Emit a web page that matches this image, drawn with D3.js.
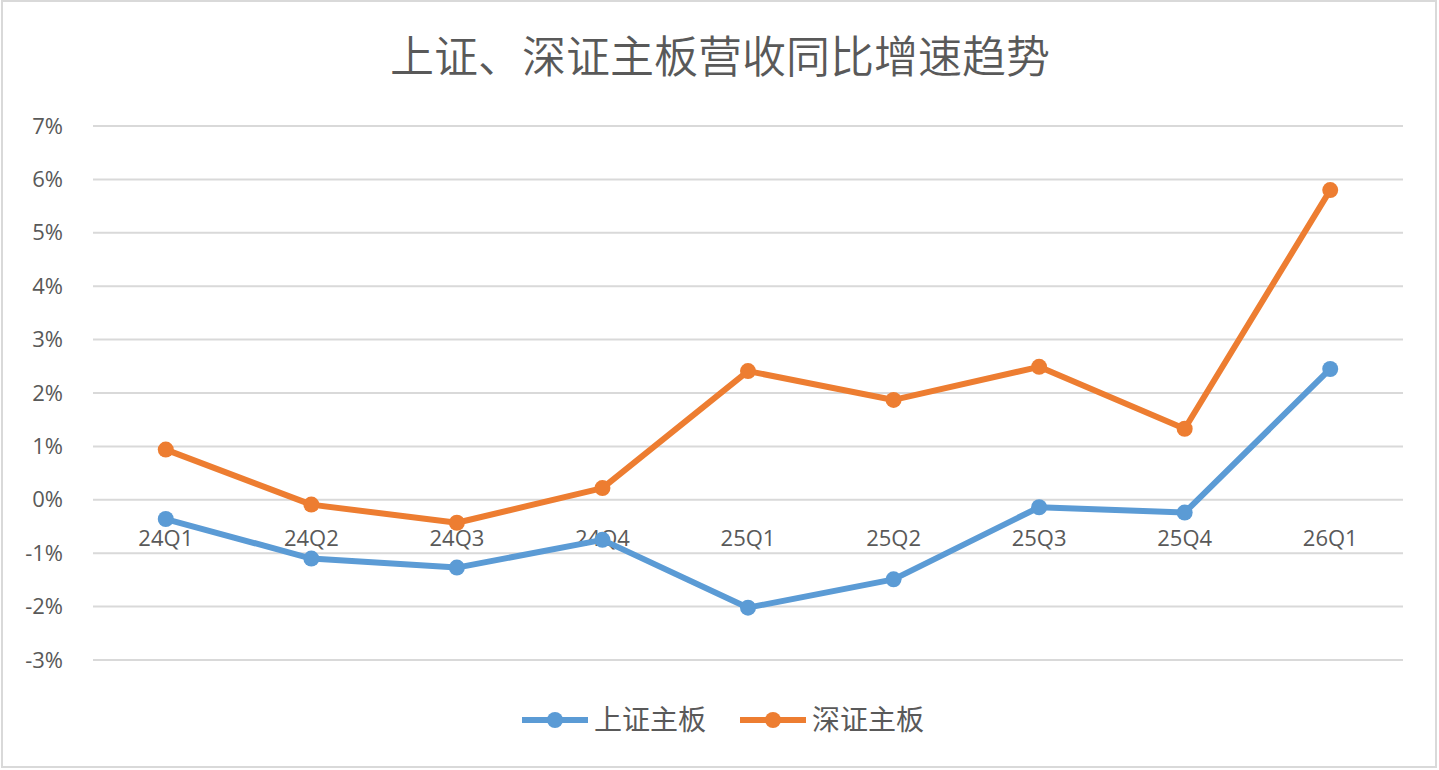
<!DOCTYPE html>
<html>
<head>
<meta charset="utf-8">
<script src="https://cdn.jsdelivr.net/npm/d3@7"></script>
<style>
  body { margin: 0; background: #fff; }
  text { font-family: "Noto Sans CJK SC", "Noto Sans", sans-serif; fill: #595959; }
</style>
</head>
<body>
<div id="chart"></div>
<script>
// data
const quarters = ["24Q1", "24Q2", "24Q3", "24Q4", "25Q1", "25Q2", "25Q3", "25Q4", "26Q1"];
const shValues = [-0.36, -1.10, -1.27, -0.75, -2.02, -1.49, -0.14, -0.24, 2.45];
const szValues = [0.94, -0.09, -0.43, 0.22, 2.41, 1.87, 2.49, 1.33, 5.80];
const seriesNames = ["上证主板", "深证主板"];
const seriesColors = ["#5B9BD5", "#ED7D31"];
const yTicks = [-3, -2, -1, 0, 1, 2, 3, 4, 5, 6, 7];

const W = 1439, H = 770;
const margin = {top: 126, right: 36, bottom: 110, left: 93};

const svg = d3.select("#chart")
  .append("svg")
  .attr("width", W)
  .attr("height", H);

// chart frame
svg.append("rect")
  .attr("x", 2).attr("y", 1)
  .attr("width", W - 5).attr("height", H - 4)
  .attr("fill", "#fff")
  .attr("stroke", "#d9d9d9")
  .attr("stroke-width", 2);

const x = d3.scaleBand()
  .domain(quarters)
  .range([margin.left, W - margin.right]);

const y = d3.scaleLinear()
  .domain([-3, 7])
  .range([H - margin.bottom, margin.top]);

// title
svg.append("text")
  .attr("x", 720)
  .attr("y", 73)
  .attr("text-anchor", "middle")
  .style("font-size", "44px")
  .style("font-weight", 350)
  .text("上证、深证主板营收同比增速趋势");

// gridlines
svg.append("g")
  .selectAll("line")
  .data(yTicks)
  .join("line")
  .attr("x1", margin.left)
  .attr("x2", W - margin.right)
  .attr("y1", d => y(d))
  .attr("y2", d => y(d))
  .attr("stroke", "#d9d9d9")
  .attr("stroke-width", 2);

// y axis labels
svg.append("g")
  .attr("transform", `translate(${margin.left - 27},0)`)
  .call(d3.axisLeft(y).tickValues(yTicks).tickFormat(d => d + "%").tickSize(0))
  .call(g => g.select(".domain").remove())
  .call(g => g.selectAll("text")
    .style("font-size", "22px")
    .style("font-family", "'Open Sans', 'Noto Sans', sans-serif")
    .attr("fill", "#595959"));

// x axis labels, sitting under the 0% line
svg.append("g")
  .attr("transform", `translate(0,${y(0)})`)
  .call(d3.axisBottom(x).tickSize(0).tickPadding(31))
  .call(g => g.select(".domain").remove())
  .call(g => g.selectAll("text")
    .style("font-size", "22px")
    .style("font-family", "'Open Sans', 'Noto Sans', sans-serif")
    .attr("fill", "#595959"));

const line = d3.line()
  .x((d, i) => x(quarters[i]) + x.bandwidth() / 2)
  .y(d => y(d));

const allSeries = [shValues, szValues];

allSeries.forEach((vals, k) => {
  svg.append("path")
    .datum(vals)
    .attr("fill", "none")
    .attr("stroke", seriesColors[k])
    .attr("stroke-width", 6)
    .attr("stroke-linejoin", "round")
    .attr("d", line);

  svg.append("g")
    .selectAll("circle")
    .data(vals)
    .join("circle")
    .attr("cx", (d, i) => x(quarters[i]) + x.bandwidth() / 2)
    .attr("cy", d => y(d))
    .attr("r", 8)
    .attr("fill", seriesColors[k]);
});

// legend
const legendX = [522, 740];
const legend = svg.append("g");
seriesNames.forEach((name, k) => {
  const g = legend.append("g").attr("transform", `translate(${legendX[k]},720)`);
  g.append("line")
    .attr("x1", 0).attr("x2", 66)
    .attr("stroke", seriesColors[k])
    .attr("stroke-width", 6);
  g.append("circle")
    .attr("cx", 33).attr("r", 8)
    .attr("fill", seriesColors[k]);
  g.append("text")
    .attr("x", 72)
    .attr("dy", "0.36em")
    .style("font-size", "28px")
    .text(name);
});
</script>
</body>
</html>
